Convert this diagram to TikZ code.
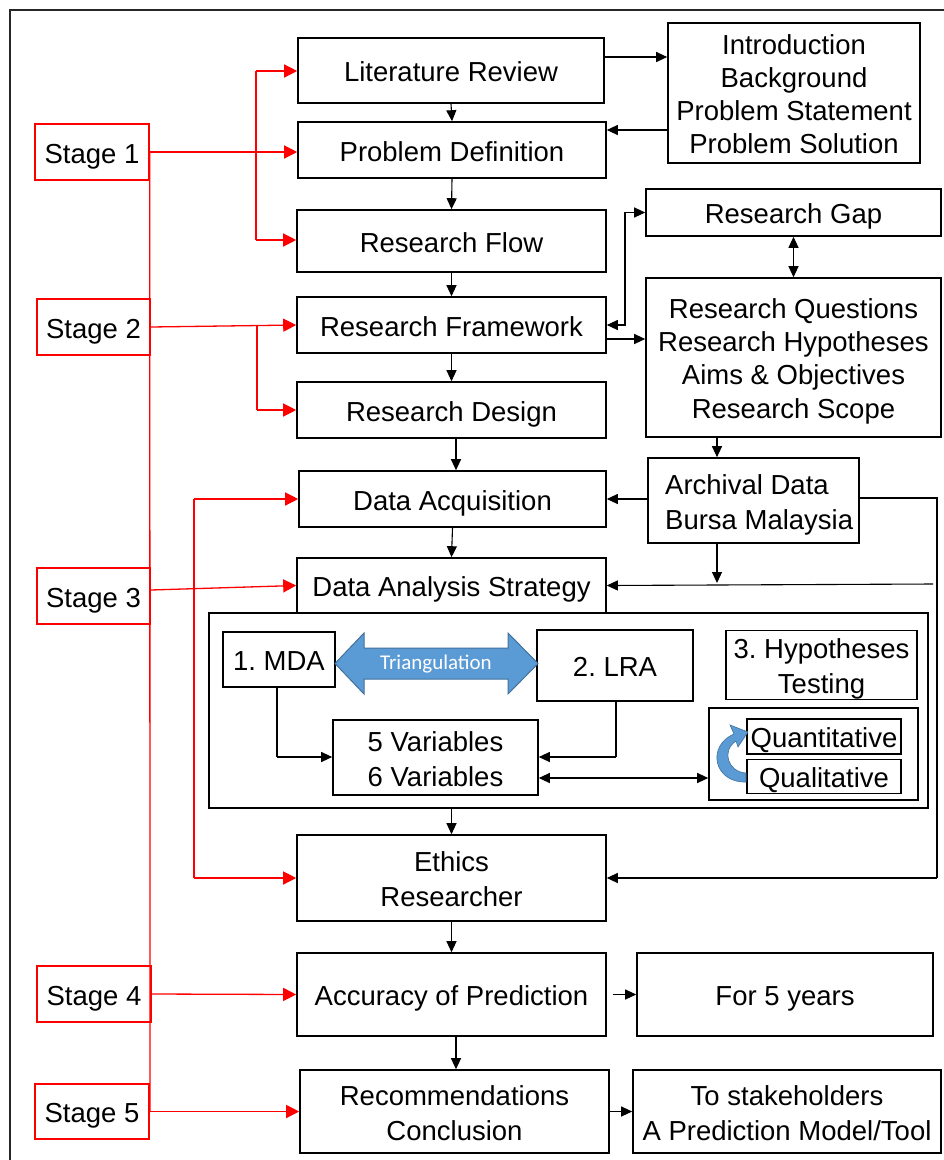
\documentclass[tikz,border=0pt]{standalone}
\usepackage{fontspec}
\setmainfont{Liberation Sans}
\newfontfamily\calfont{Carlito}
\usetikzlibrary{arrows.meta}
\definecolor{triblue}{HTML}{5B9BD5}
\definecolor{triedge}{HTML}{41719C}
% line strut: every text line sits on the same baseline grid inside its box
\newcommand\linestrut{\rule[-6pt]{0pt}{34pt}}
\begin{document}
\frenchspacing
\begin{tikzpicture}[x=1pt,y=-1pt,
  txt/.style={font=\fontsize{27.5}{33}\selectfont,
    execute at begin node={\linestrut}, execute at end node={\linestrut}},
  box/.style={draw=black, line width=1.6pt, rectangle, inner sep=0pt, align=center, txt},
  stagebox/.style={draw=red, line width=1.5pt, rectangle, inner sep=0pt, align=center, txt},
  wh/.style 2 args={minimum width=#1pt, minimum height=#2pt},
  redlink/.style={draw=red, line width=1.3pt, -{Triangle[length=13pt,width=13pt]}},
  redline/.style={draw=red, line width=1.3pt},
  link/.style={draw=black, line width=1.1pt, -{Triangle[length=11pt,width=10pt]}},
  biglink/.style={draw=black, line width=1.1pt, {Triangle[length=11pt,width=10pt]}-{Triangle[length=11pt,width=10pt]}},
  plain/.style={draw=black, line width=1.1pt}]
\useasboundingbox (0,0) rectangle (944,1160);
\fill[white] (0,0) rectangle (944,1160);
% outer frame
\draw[line width=2pt, black!85] (10,10) rectangle (1000,1220);

% main column
\node[box, wh={306}{65}] (lit) at (451,70.5) {Literature Review};
\node[box, wh={308}{56}] (pdef) at (452,150) {Problem Definition};
\node[box, wh={309}{62}] (rflow) at (451.5,241) {Research Flow};
\node[box, wh={309}{56}] (rfw) at (451.5,325) {Research Framework};
\node[box, wh={309}{56}] (rdes) at (451.5,410) {Research Design};
\node[box, wh={307}{56}] (dacq) at (452.5,499) {Data Acquisition};
\node[box, wh={309}{55}] (das) at (451.5,585.5) {Data Analysis Strategy};
\node[box, wh={309}{86}] (eth) at (451.5,878) {\linestrut Ethics\\Researcher\linestrut};
\node[box, wh={309}{83}] (acc) at (451.5,994.5) {Accuracy of Prediction};
\node[box, wh={309}{83}] (rec) at (454.5,1111.5) {\linestrut Recommendations\\Conclusion\linestrut};

% right column
\node[box, wh={252}{140}] (intro) at (794,93) {\linestrut Introduction\\Background\\Problem Statement\\Problem Solution\linestrut};
\node[box, wh={295}{47}] (gap) at (793.5,212.5) {Research Gap};
\node[box, wh={295}{159}] (rq) at (793.5,357.5) {\linestrut Research Questions\\Research Hypotheses\\Aims \& Objectives\\Research Scope\linestrut};
\node[box, wh={211}{85}] (arch) at (753.5,500.5) {};
\node[txt, align=left, anchor=west, inner sep=0pt] (archtxt) at (665,500.5) {\linestrut Archival Data\\Bursa Malaysia\linestrut};
\node[box, wh={296}{83}] (five) at (785,994.5) {For 5 years};
\node[box, wh={308}{83}] (stake) at (787,1111.5) {\linestrut To stakeholders\\A Prediction Model/Tool\linestrut};

% analysis group
\node[draw=black, line width=2.6pt, rectangle, wh={719}{195}] (grp) at (568.5,710.5) {};
\node[box, wh={112}{55}] (mda) at (279,659.5) {1. MDA};
\node[box, wh={156}{71}] (lra) at (615,665.5) {2. LRA};
\node[box, wh={191}{68}] (hyp) at (821.5,665) {\linestrut 3. Hypotheses\\Testing\linestrut};
\node[box, wh={205}{75}] (vars) at (435.5,757.5) {\linestrut 5 Variables\\6 Variables\linestrut};
\node[box, wh={209}{92}] (qbox) at (813.5,754) {};
\node[box, line width=1.3pt, wh={154}{35}] (quant) at (824,736.5) {Quantitative};
\node[box, line width=1.3pt, wh={154}{33}] (qual) at (824,776.5) {Qualitative};

% triangulation double arrow
\filldraw[fill=triblue, draw=triedge, line width=1pt]
  (335,663.5) -- (364,633) -- (364,648) -- (508,648) -- (508,633) -- (538,663.5)
  -- (508,694) -- (508,679) -- (364,679) -- (364,694) -- cycle;
\node[text=white, font=\calfont\fontsize{21}{24}\selectfont, inner sep=0pt] (tri) at (436,664) {Triangulation};

% curved arrow between quantitative and qualitative
\filldraw[fill=triblue, draw=triedge, line width=0.6pt]
  (746,782) .. controls (714,783) and (706,746) .. (734,734)
  -- (730,725) -- (748,732) -- (738,747) -- (736,741)
  .. controls (721,751) and (728,772) .. (746,773) -- cycle;

% stage boxes
\node[stagebox, wh={114}{56}] (s1) at (92,152) {Stage 1};
\node[stagebox, wh={113}{56}] (s2) at (93.5,327) {Stage 2};
\node[stagebox, wh={113}{56}] (s3) at (93.5,596) {Stage 3};
\node[stagebox, wh={114}{56}] (s4) at (94,994) {Stage 4};
\node[stagebox, wh={114}{55}] (s5) at (92,1111.5) {Stage 5};

% red stage connectors
\draw[redline] (s1.east) -- (150,1112);
\draw[redlink] (s1.east) -- (pdef.west |- s1.east);
\draw[redlink] (256,71) -- (lit.west |- 0,71);
\draw[redline] (256,71) -- (256,240);
\draw[redlink] (256,240) -- (rflow.west |- 0,240);
\draw[redlink] (s2.east) -- (rfw.west);
\draw[redline] (257,326) -- (257,410);
\draw[redlink] (257,410) -- (rdes.west);
\draw[redlink] (s3.east |- 0,590) -- (das.west);
\draw[redlink] (194,499) -- (dacq.west);
\draw[redline] (194,499) -- (194,878);
\draw[redlink] (194,878) -- (eth.west);
\draw[redlink] (s4.east) -- (acc.west);
\draw[redlink] (s5.east) -- (rec.west);

% black connectors
\draw[link] (lit.south) -- (pdef.north);
\draw[link] (lit.east |- 0,57) -- (intro.west |- 0,57);
\draw[link] (intro.west |- 0,130) -- (pdef.east |- 0,130);
\draw[link] (pdef.south) -- (rflow.north);
\draw[link] (rflow.south) -- (rfw.north);
\draw[biglink] (gap.west) -- (625,212.5) -- (625,325) -- (rfw.east);
\draw[link] (rfw.east |- 0,339) -- (rq.west |- 0,339);
\draw[biglink] (gap.south) -- (rq.north);
\draw[link] (rfw.south) -- (rdes.north);
\draw[link] (rdes.south -| 456,0) -- (dacq.north -| 456,0);
\draw[link] (rq.south -| 717,0) -- (arch.north -| 717,0);
\draw[link] (arch.west |- 0,499) -- (dacq.east |- 0,499);
\coordinate (join) at (717,583);
\draw[link] (arch.south -| join) -- (join);
\draw[plain] (arch.east |- 0,498) -- (937,498) -- (937,878);
\draw[link] (937,878) -- (eth.east);
\draw[link] (933,584) -- (das.east);
\draw[link] (dacq.south) -- (das.north);
\draw[plain] (mda.south -| 277,0) -- (277,757);
\draw[link] (277,757) -- (vars.west |- 0,757);
\draw[plain] (lra.south -| 616,0) -- (616,757);
\draw[link] (616,757) -- (vars.east |- 0,757);
\draw[biglink] (vars.east |- 0,778) -- (qbox.west |- 0,778);
\draw[link] (grp.south -| eth.north) -- (eth.north);
\draw[link] (eth.south) -- (acc.north);
\draw[link] ([xshift=6pt]acc.east) -- (five.west);
\draw[link] (acc.south -| 456,0) -- (rec.north -| 456,0);
\draw[link] (rec.east) -- (stake.west);
\end{tikzpicture}
\end{document}
